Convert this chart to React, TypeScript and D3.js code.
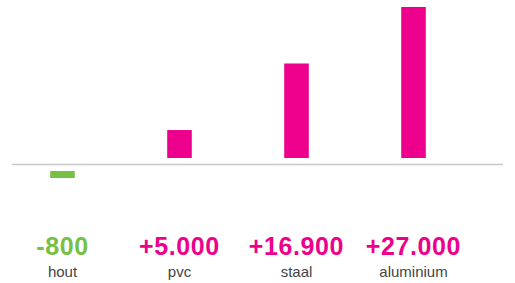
import React, { useEffect, useRef } from 'react'
import * as d3 from 'd3'

const categories = ['hout', 'pvc', 'staal', 'aluminium']
const values = [-800, 5000, 16900, 27000]
const valueLabels = ['-800', '+5.000', '+16.900', '+27.000']

const PINK = '#ec008c'
const GREEN = '#76c043'

export default function App() {
  const ref = useRef<SVGSVGElement>(null)

  useEffect(() => {
    const width = 515
    const height = 283
    const svg = d3.select(ref.current)
    svg.selectAll('*').remove()

    const x = d3.scaleBand()
      .domain(categories)
      .range([4, 472])
      .paddingInner(0.79)
      .paddingOuter(0.395)

    // bars leave a small gap above/below the zero line
    const baseline = 164.5
    const gap = 6.5
    const y = d3.scaleLinear()
      .domain([0, 27000])
      .range([0, 151])

    const g = svg.append('g')

    g.selectAll('rect.bar')
      .data(values)
      .enter()
      .append('rect')
      .attr('class', 'bar')
      .attr('x', (d, i) => x(categories[i]) as number)
      .attr('width', x.bandwidth())
      .attr('y', d => d >= 0 ? baseline - gap - y(d) : baseline + gap)
      .attr('height', d => Math.max(y(Math.abs(d)), 7))
      .attr('fill', d => d >= 0 ? PINK : GREEN)

    g.append('line')
      .attr('x1', 12)
      .attr('x2', 503)
      .attr('y1', baseline)
      .attr('y2', baseline)
      .attr('stroke', '#c8c8c8')
      .attr('stroke-width', 1.5)

    g.selectAll('text.value')
      .data(values)
      .enter()
      .append('text')
      .attr('class', 'value')
      .attr('x', (d, i) => (x(categories[i]) as number) + x.bandwidth() / 2)
      .attr('y', 255)
      .attr('text-anchor', 'middle')
      .style('font-family', 'Liberation Sans, Arial, sans-serif')
      .style('font-weight', 'bold')
      .style('font-size', '25px')
      .style('letter-spacing', '0.6px')
      .attr('fill', d => d >= 0 ? PINK : GREEN)
      .text((d, i) => valueLabels[i])

    g.selectAll('text.cat')
      .data(categories)
      .enter()
      .append('text')
      .attr('class', 'cat')
      .attr('x', d => (x(d) as number) + x.bandwidth() / 2)
      .attr('y', 277)
      .attr('text-anchor', 'middle')
      .style('font-family', 'Liberation Sans, Arial, sans-serif')
      .style('font-size', '15px')
      .attr('fill', '#444')
      .text(d => d)

    svg.attr('width', width).attr('height', height)
  }, [])

  return (
    <svg
      ref={ref}
      width={515}
      height={283}
      style={{ position: 'absolute', left: 0, top: 0, background: '#fff' }}
    />
  )
}
